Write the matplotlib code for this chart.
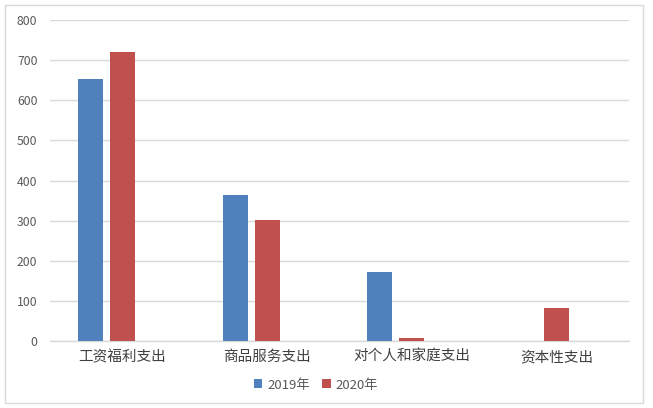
import matplotlib
matplotlib.use("Agg")
import matplotlib.pyplot as plt
import numpy as np
from matplotlib.patches import Rectangle

plt.rcParams['font.family'] = ['Noto Sans CJK SC', 'DejaVu Sans']

categories = ["工资福利支出", "商品服务支出", "对个人和家庭支出", "资本性支出"]
series_names = ["2019年", "2020年"]
values_2019 = [654, 364, 173, 0]
values_2020 = [721, 302, 7, 82]
yticks = [0, 100, 200, 300, 400, 500, 600, 700, 800]

colors = ["#4F81BD", "#C0504D"]

W, H = 653, 408
fig = plt.figure(figsize=(W / 100, H / 100), dpi=100)
fig.patch.set_facecolor("white")
fig.patches.append(Rectangle((5 / W, 5 / H), (643 - 5) / W, (403 - 5) / H,
                             transform=fig.transFigure, fill=False,
                             edgecolor="#D9D9D9", linewidth=1))

ax = fig.add_axes([50 / W, (H - 341) / H, (629 - 50) / W, (341 - 20) / H])
x = np.arange(len(categories))
width = 0.173
step = 0.221
offsets = [-step, 0.0]
for vals, name, c, off in zip([values_2019, values_2020], series_names, colors, offsets):
    ax.bar(x + off, vals, width=width, color=c, label=name, zorder=3, linewidth=0)

ax.set_xlim(-0.5, len(categories) - 0.5)
ax.set_ylim(0, 800)
ax.set_yticks(yticks)
ax.set_yticklabels([str(v) for v in yticks], fontsize=8.8, color="#595959")
ax.set_xticks(x)
ax.set_xticklabels(categories, fontsize=10.5, color="#404040")
ax.tick_params(axis="y", length=0, pad=9)
ax.tick_params(axis="x", length=0, pad=6.5)
ax.grid(axis="y", color="#D9D9D9", linewidth=1, zorder=0)
for s in ["top", "right", "left"]:
    ax.spines[s].set_visible(False)
ax.spines["bottom"].set_color("#D9D9D9")
ax.spines["bottom"].set_linewidth(1)

leg = fig.legend(loc="center", bbox_to_anchor=(316 / W, (H - 385) / H), ncol=2,
                 frameon=False, fontsize=9.5, handlelength=0.65, handleheight=0.65,
                 handletextpad=0.4, columnspacing=0.9)
for t in leg.get_texts():
    t.set_color("#595959")

fig.savefig("out.png", dpi=100)
